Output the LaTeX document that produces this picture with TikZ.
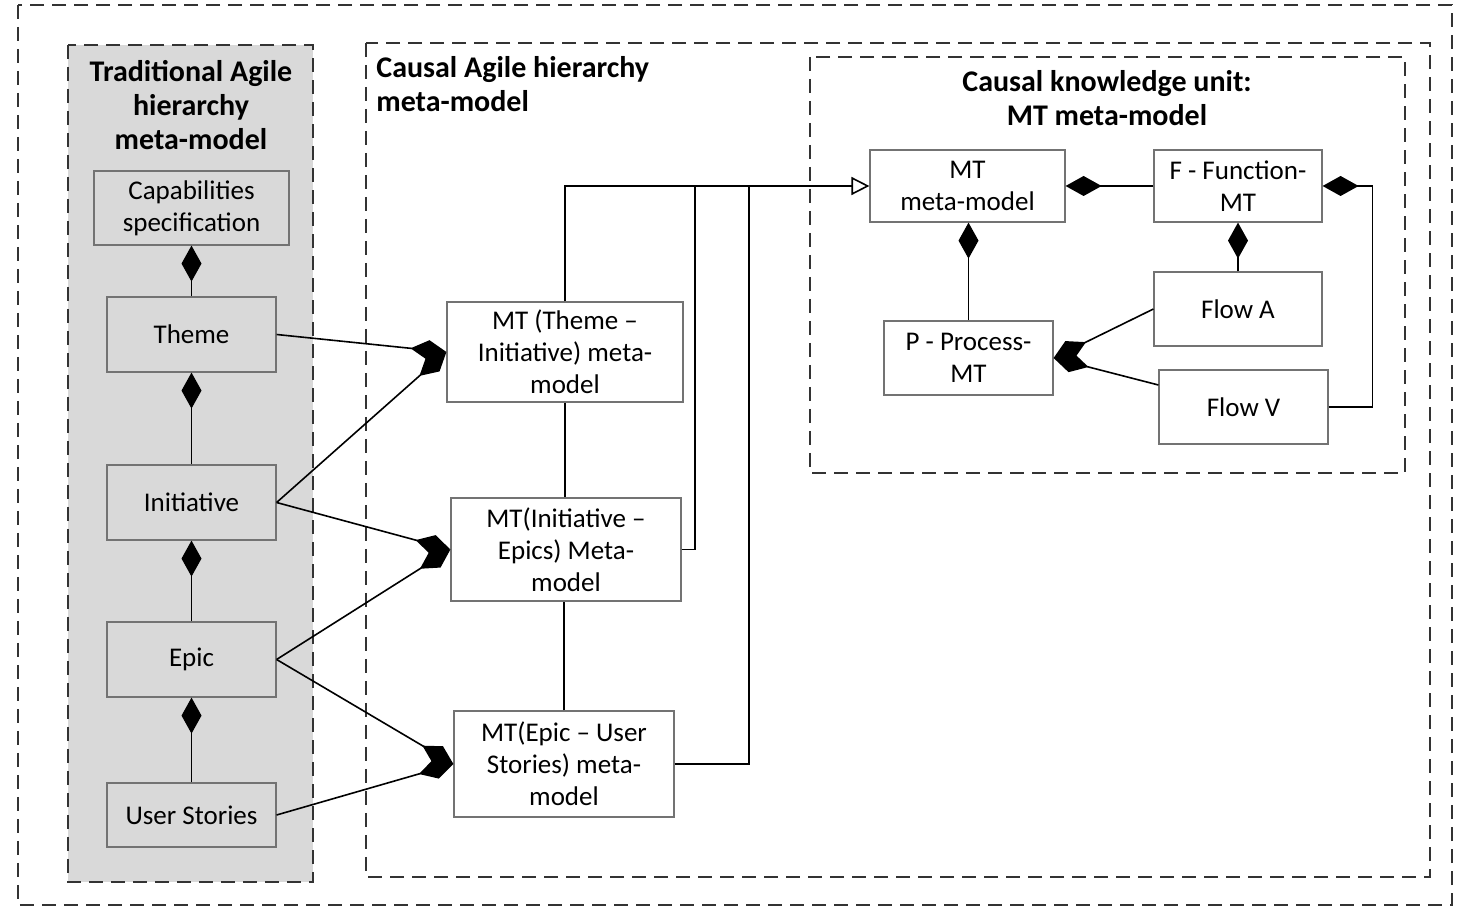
\documentclass[tikz,border=0pt]{standalone}
\usepackage{fontspec}
\setmainfont{Carlito}
\usetikzlibrary{arrows.meta,calc}

\begin{document}
\begin{tikzpicture}[x=0.5pt,y=-0.5pt,
	box/.style={draw=black!55,line width=0.6pt,align=center,inner sep=0pt,font=\fontsize{13.5}{16}\selectfont},
	graybox/.style={box,fill=gray!30,minimum width=84.5pt,minimum height=37.5pt},
	frame/.style={draw=black!80,line width=1pt,dash pattern=on 7pt off 4pt},
	title/.style={font=\bfseries\fontsize{15}{17}\selectfont},
	link/.style={line width=0.8pt},
	comp/.style={link,-{Diamond[length=18pt,width=10pt]}},
	gen/.style={link,-{Triangle[open,length=9pt,width=9pt,fill=white]}}]
	\useasboundingbox (0,0) rectangle (1464,914);

	% frames
	\draw[frame] (18,5) rectangle (1452,905);
	\draw[frame,fill=gray!30] (68,45) rectangle (313,882);
	\draw[frame] (366,43) rectangle (1430,877);
	\draw[frame] (810,57) rectangle (1405,473);

	\node[title,align=center] (ttrad) at (191,105) {Traditional Agile\\hierarchy\\meta-model};
	\node[title,align=left,anchor=north west,inner sep=0pt] (tcausal) at (376,56) {Causal Agile hierarchy\\meta-model};
	\node[title,align=center] (tunit) at (1107,98) {Causal knowledge unit:\\MT meta-model};

	% traditional hierarchy
	\node[graybox,minimum width=97.5pt,minimum height=37pt] (cap) at (191.5,208) {Capabilities\\specification};
	\node[graybox] (theme) at (191.5,334.5) {Theme};
	\node[graybox] (init)  at (191.5,502.5) {Initiative};
	\node[graybox] (epic)  at (191.5,659.5) {Epic};
	\node[graybox,minimum height=32pt] (us) at (191.5,815) {User Stories};

	\draw[comp] (theme) -- (cap);
	\draw[comp] (init)  -- (theme);
	\draw[comp] (epic)  -- (init);
	\draw[comp] (us)    -- (epic);

	% causal hierarchy
	\node[box,minimum width=118pt,minimum height=50pt]   (mtti) at (565,352)   {MT (Theme --\\Initiative) meta-\\model};
	\node[box,minimum width=115pt,minimum height=51.5pt] (mtie) at (566,549.5) {MT(Initiative --\\Epics) Meta-\\model};
	\node[box,minimum width=110pt,minimum height=53pt]   (mteu) at (564,764)   {MT(Epic -- User\\Stories) meta-\\model};

	\draw[comp] (theme.east) -- (mtti.west);
	\draw[comp] (init.east)  -- (mtti.west);
	\draw[comp] (init.east)  -- (mtie.west);
	\draw[comp] (epic.east)  -- (mtie.west);
	\draw[comp] (epic.east)  -- (mteu.west);
	\draw[comp] (us.east)    -- (mteu.west);

	\draw[link] (mtti.south) -- (mtti.south |- mtie.north);
	\draw[link] (mteu.north) -- (mteu.north |- mtie.south);

	% knowledge unit
	\node[box,minimum width=97.5pt,minimum height=36pt] (mtmm)  at (967.5,186) {MT\\meta-model};
	\node[box,minimum width=84pt,minimum height=36pt]   (ffun)  at (1238,186)  {F - Function-\\MT};
	\node[box,minimum width=84pt,minimum height=37pt]   (flowa) at (1238,309)  {Flow A};
	\node[box,minimum width=84.5pt,minimum height=37pt] (proc)  at (968.5,358) {P - Process-\\MT};
	\node[box,minimum width=84.5pt,minimum height=37pt] (flowv) at (1243.5,407) {Flow V};

	\coordinate (j1) at (695,186);
	\coordinate (j2) at (749,186);
	\draw[gen] (mtti.north) |- (mtmm.west);
	\draw[link] (mtie.east) -| (j1);
	\draw[link] (mteu.east) -| (j2);

	\draw[comp] (ffun.west) -- (mtmm.east);
	\draw[comp] (proc.north) -- (proc.north |- mtmm.south);
	\draw[comp] (flowa.north) -- (ffun.south);
	\draw[comp] (flowa.west) -- (proc.east);
	\draw[comp] ([yshift=11pt]flowv.west) -- (proc.east);
	\draw[comp] (flowv.east) -- ++(44,0) |- (ffun.east);
\end{tikzpicture}
\end{document}
